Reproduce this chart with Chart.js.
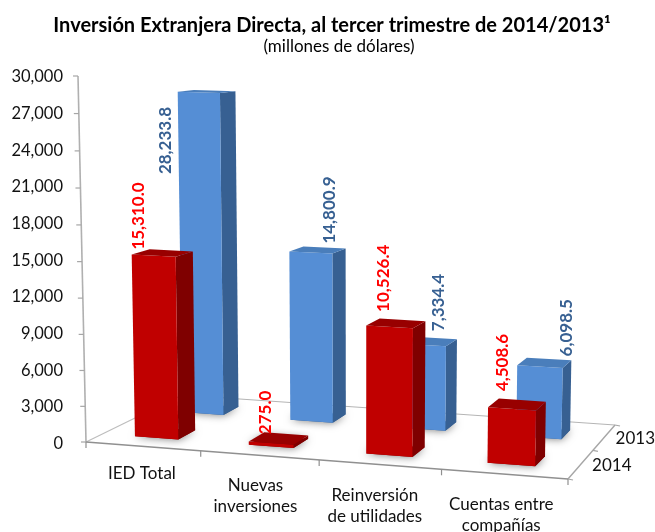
<!DOCTYPE html>
<html>
<head>
<meta charset="utf-8">
<script src="https://cdn.jsdelivr.net/npm/chart.js@4"></script>
<style>
  html, body { margin: 0; padding: 0; background: #fff; }
  canvas { display: block; }
</style>
</head>
<body>
<canvas id="grafico" width="655" height="532"></canvas>
<script>
// Datos
const categorias = [['IED Total'], ['Nuevas', 'inversiones'], ['Reinversión', 'de utilidades'], ['Cuentas entre', 'compañías']];
const serie2014 = [15310.0, 275.0, 10526.4, 4508.6];
const serie2013 = [28233.8, 14800.9, 7334.4, 6098.5];
const nombres = ['2014', '2013'];
const ticksY = [0, 3000, 6000, 9000, 12000, 15000, 18000, 21000, 24000, 27000, 30000];

// Desplazamiento de cada etiqueta de valor respecto al centro de la cara superior
const desfase2014 = [[-24, -37], [-13, -26], [-13, -45], [-15, -42]];
const desfase2013 = [[-41, 49], [12, -40], [9, -39], [22, -35]];
// Desplazamiento de las etiquetas de categoria respecto a su punto en el borde
const desfaseCategorias = [[-1, 27], [-4, 30], [-5, 31], [-3, 30]];

const coloresCaja = [
  { frente: '#C00000', lado: '#7F0000', tapa: '#980000', texto: '#FF0000' },
  { frente: '#558ED5', lado: '#376092', tapa: '#4A7EBB', texto: '#376092' }
];
const fuente = 'Lato, "Open Sans", sans-serif';

// Camara: esquinas del piso y cima del eje, de aqui sale la proyeccion
const piso = [[86, 442], [568, 479], [615, 425], [182, 395]];
const cimaEje = [78, 76];
const fugaY = 13000;
const ajusteU = -0.005; // las barras no quedan del todo centradas en su banda
const fondo = 0.18;     // profundidad de cada barra sobre el piso

function crearProyeccion() {
  const [p0, p1, p2, p3] = piso;
  const dx1 = p1[0] - p2[0], dx2 = p3[0] - p2[0], sx = p0[0] - p1[0] + p2[0] - p3[0];
  const dy1 = p1[1] - p2[1], dy2 = p3[1] - p2[1], sy = p0[1] - p1[1] + p2[1] - p3[1];
  const den = dx1 * dy2 - dx2 * dy1;
  const g = (sx * dy2 - dx2 * sy) / den;
  const h = (dx1 * sy - sx * dy1) / den;
  const a = p1[0] - p0[0] + g * p1[0], b = p3[0] - p0[0] + h * p3[0];
  const d = p1[1] - p0[1] + g * p1[1], e = p3[1] - p0[1] + h * p3[1];
  const lam = (p0[1] - cimaEje[1]) / (cimaEje[1] - fugaY);
  const A = cimaEje[0] * (1 + lam) - p0[0];
  const B = lam * fugaY;
  return (u, v, z) => {
    const w = g * u + h * v + 1 + lam * z;
    return [(a * u + b * v + p0[0] + A * z) / w, (d * u + e * v + p0[1] + B * z) / w];
  };
}
const proy = crearProyeccion();

function poligono(ctx, puntos, color) {
  ctx.beginPath();
  puntos.forEach((p, i) => i ? ctx.lineTo(p[0], p[1]) : ctx.moveTo(p[0], p[1]));
  ctx.closePath();
  ctx.fillStyle = color;
  ctx.fill();
}

function linea(ctx, a, b, color, ancho) {
  ctx.beginPath();
  ctx.moveTo(a[0], a[1]);
  ctx.lineTo(b[0], b[1]);
  ctx.strokeStyle = color;
  ctx.lineWidth = ancho;
  ctx.stroke();
}

const caja3D = {
  id: 'caja3D',
  afterDatasetsDraw(chart) {
    const ctx = chart.ctx;
    const esc = chart.scales.x;
    const escY = chart.scales.y;
    const frac = px => (px - esc.left) / (esc.right - esc.left) + ajusteU;
    const alt = val => (escY.bottom - escY.getPixelForValue(val)) / (escY.bottom - escY.top);
    ctx.save();

    // piso y ejes
    const gris = '#A6A6A6';
    linea(ctx, proy(0, 0, 0), proy(0, 0, 1), '#B0B0B0', 1.6);
    linea(ctx, proy(0, 0, 0), proy(0, 1, 0), '#BDBDBD', 1.2);
    linea(ctx, proy(0, 1, 0), proy(1, 1, 0), '#B5B5B5', 1.2);
    linea(ctx, proy(1, 1, 0), proy(1, 0, 0), gris, 1.4);
    linea(ctx, proy(0, 0, 0), proy(1, 0, 0), '#909090', 1.4);
    escY.ticks.forEach(t => {
      const p = proy(0, 0, alt(t.value));
      linea(ctx, [p[0] - 5, p[1]], [p[0], p[1]], gris, 1.2);
    });
    for (let i = 0; i <= categorias.length; i++) {
      const p = proy(i / categorias.length, 0, 0);
      linea(ctx, p, [p[0], p[1] + 6], '#909090', 1.2);
    }
    [0, 0.5, 1].forEach(v => {
      const p = proy(1, v, 0);
      linea(ctx, p, [p[0] + 5, p[1] + 1], gris, 1.2);
    });

    // atras primero, luego la fila del frente
    [1, 0].forEach(ds => {
      const barras = chart.getDatasetMeta(ds).data;
      const col = coloresCaja[ds];
      const v0 = ds * 0.5 + 0.25 - fondo / 2, v1 = v0 + fondo;
      barras.forEach(b => {
        const u0 = frac(b.x - b.width / 2), u1 = frac(b.x + b.width / 2);
        const base = [proy(u0, v0, 0), proy(u1, v0, 0), proy(u1, v1, 0), proy(u0, v1, 0)];
        ctx.save();
        ctx.shadowColor = 'rgba(0,0,0,0.55)';
        ctx.shadowBlur = 9;
        poligono(ctx, base, col.lado);
        ctx.restore();
      });
      barras.forEach(b => {
        const u0 = frac(b.x - b.width / 2), u1 = frac(b.x + b.width / 2);
        const z = (b.base - b.y) / (escY.bottom - escY.top);
        poligono(ctx, [proy(u1, v0, 0), proy(u1, v1, 0), proy(u1, v1, z), proy(u1, v0, z)], col.lado);
        poligono(ctx, [proy(u0, v0, 0), proy(u1, v0, 0), proy(u1, v0, z), proy(u0, v0, z)], col.frente);
        poligono(ctx, [proy(u0, v0, z), proy(u1, v0, z), proy(u1, v1, z), proy(u0, v1, z)], col.tapa);
      });
    });

    // etiquetas de valor, giradas
    ctx.textAlign = 'center';
    ctx.textBaseline = 'middle';
    [serie2014, serie2013].forEach((serie, ds) => {
      const desfases = ds ? desfase2013 : desfase2014;
      const barras = chart.getDatasetMeta(ds).data;
      const vc = ds * 0.5 + 0.25;
      serie.forEach((val, i) => {
        const z = (barras[i].base - barras[i].y) / (escY.bottom - escY.top);
        const p = proy(frac(barras[i].x), vc, z);
        ctx.save();
        ctx.translate(p[0] + desfases[i][0], p[1] + desfases[i][1]);
        ctx.rotate(-Math.PI / 2);
        ctx.font = 'bold 17px ' + fuente;
        ctx.fillStyle = coloresCaja[ds].texto;
        ctx.fillText(val.toLocaleString('en-US', { minimumFractionDigits: 1 }), 0, 0);
        ctx.restore();
      });
    });

    // categorias y series
    ctx.fillStyle = '#111';
    ctx.font = '17px ' + fuente;
    categorias.forEach((lineas, i) => {
      const p = proy((i + 0.5) / categorias.length, 0, 0);
      const [dx, dy] = desfaseCategorias[i];
      lineas.forEach((txt, n) => ctx.fillText(txt, p[0] + dx, p[1] + dy + n * 21));
    });
    nombres.forEach((nom, ds) => {
      const p = proy(1, ds * 0.5 + 0.25, 0);
      ctx.fillText(nom, p[0] + 31, p[1] + 1);
    });

    // titulo
    ctx.font = 'bold 20px ' + fuente;
    ctx.fillStyle = '#000';
    ctx.fillText('Inversión Extranjera Directa, al tercer trimestre de 2014/2013¹', 332, 26);
    ctx.font = '17px ' + fuente;
    ctx.fillText('(millones de dólares)', 339, 47);
    ctx.restore();
  }
};

new Chart(document.getElementById('grafico'), {
  type: 'bar',
  data: {
    labels: categorias,
    datasets: [
      { label: nombres[0], data: serie2014, backgroundColor: 'transparent' },
      { label: nombres[1], data: serie2013, backgroundColor: 'transparent' }
    ]
  },
  options: {
    responsive: false,
    animation: false,
    events: [],
    layout: { padding: { top: 77, bottom: 88.5 } },
    plugins: { legend: { display: false }, tooltip: { enabled: false } },
    datasets: { bar: { grouped: false, categoryPercentage: 1, barPercentage: 0.385 } },
    scales: {
      x: {
        grid: { display: false, drawTicks: false },
        border: { display: false },
        ticks: { display: false }
      },
      y: {
        min: 0,
        max: 30000,
        afterBuildTicks: s => { s.ticks = ticksY.map(value => ({ value })); },
        afterFit: s => { s.width = 63; },
        grid: { display: false, drawTicks: false },
        border: { display: false },
        ticks: {
          padding: 0,
          color: '#111',
          font: { family: fuente, size: 16.5 },
          callback: val => val.toLocaleString('en-US')
        }
      }
    }
  },
  plugins: [caja3D]
});
</script>
</body>
</html>
